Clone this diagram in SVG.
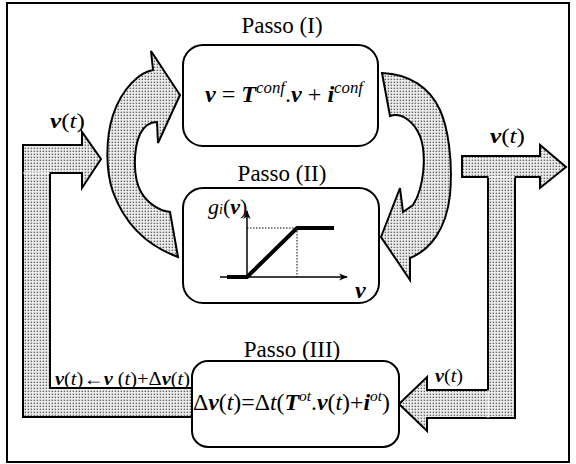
<svg xmlns="http://www.w3.org/2000/svg" width="576" height="464" viewBox="0 0 576 464">
<defs>
<pattern id="dots" width="3" height="3" patternUnits="userSpaceOnUse">
<rect width="3" height="3" fill="#f2f2f2"/>
<rect x="0.6" y="0.6" width="1.5" height="1.5" fill="#666"/>
</pattern>
<marker id="ah" viewBox="0 0 10 10" refX="9" refY="5" markerWidth="9" markerHeight="9" orient="auto" markerUnits="userSpaceOnUse">
<path d="M0,1 L10,5 L0,9 L3,5 Z" fill="#000"/>
</marker>
</defs>
<style>
.box{fill:#fff;stroke:#000;stroke-width:2}
.shape{fill:url(#dots);stroke:#000;stroke-width:2;stroke-linejoin:miter}
.bi{font-weight:bold;font-style:italic}
.i{font-style:italic}
</style>
<rect x="7" y="3" width="562" height="459" fill="#fff" stroke="#000" stroke-width="2"/>
<g id="connectors">
<path class="shape" d="M23,145 L82,145 L82,132 L101,159 L82,188 L82,173 L50,173 L50,388 L192,388 L192,417 L23,417 Z"/>
<line x1="23" y1="173" x2="50" y2="173" stroke="#fff" stroke-width="1"/>
<path class="shape" d="M462,156 L540,156 L540,145 L566,167 L540,188 L540,177 L515,177 L515,418 L427,418 L427,431 L399,404 L427,377 L427,390 L488,390 L488,177 L462,177 Z"/>
<line x1="488" y1="177" x2="515" y2="177" stroke="#fff" stroke-width="1"/>
<line x1="488" y1="390" x2="488" y2="418" stroke="#fff" stroke-width="1"/>
<path class="shape" d="M178,257 L170,212 C160,211 148,204 141,192 C133,178 133,150 140,134 C144,126 150,122 157,122 L158,143 L180,95 L151,51 L153,70 C140,72 122,88 113,115 C105,140 106,172 113,192 C124,222 145,245 178,257 Z"/>
<path class="shape" d="M382,73 L390,116 C402,112 414,122 420,136 C427,155 424,188 413,205 L403,212 L400,188 L381,237 L410,280 L410,258 C430,250 446,230 450,195 C453,160 448,128 440,110 C430,88 410,74 382,73 Z"/>
</g>
<g id="step1">
<text font-family="Liberation Serif" x="282" y="33" font-size="23" text-anchor="middle">Passo (I)</text>
<rect class="box" x="183" y="45" width="195" height="101" rx="20"/>
<text font-family="Liberation Serif" x="205" y="102" font-size="23" textLength="158" lengthAdjust="spacingAndGlyphs"><tspan class="bi">v</tspan> = <tspan class="bi">T</tspan><tspan class="i" font-size="16" dy="-9">conf</tspan><tspan dy="9">.</tspan><tspan class="bi">v</tspan> + <tspan class="bi">i</tspan><tspan class="i" font-size="16" dy="-9">conf</tspan></text>
</g>
<g id="step2">
<text font-family="Liberation Serif" x="282" y="181" font-size="23" text-anchor="middle">Passo (II)</text>
<rect class="box" x="183" y="188" width="196" height="115" rx="20"/>
<line x1="247" y1="228" x2="297" y2="228" stroke="#000" stroke-width="1" stroke-dasharray="1.5,1.5"/>
<line x1="297" y1="228" x2="297" y2="277" stroke="#000" stroke-width="1" stroke-dasharray="1.5,1.5"/>
<line x1="247" y1="277" x2="247" y2="211" stroke="#000" stroke-width="1.5" marker-end="url(#ah)"/>
<line x1="220" y1="277" x2="347" y2="277" stroke="#000" stroke-width="1.5" marker-end="url(#ah)"/>
<polyline points="227,277 247,277 297,228 334,228" fill="none" stroke="#000" stroke-width="4"/>
<text font-family="Liberation Serif" x="208" y="214" font-size="22"><tspan class="i">g</tspan><tspan class="i" font-size="14">i</tspan>(<tspan class="bi">v</tspan>)</text>
<text font-family="Liberation Serif" class="bi" x="355" y="298" font-size="24">v</text>
</g>
<g id="step3">
<text font-family="Liberation Serif" x="292" y="357" font-size="23" text-anchor="middle">Passo (III)</text>
<rect class="box" x="192" y="361" width="207" height="86" rx="16"/>
<text font-family="Liberation Serif" x="193" y="410" font-size="23" textLength="197" lengthAdjust="spacingAndGlyphs">Δ<tspan class="bi">v</tspan>(<tspan class="i">t</tspan>)=Δ<tspan class="i">t</tspan>(<tspan class="bi">T</tspan><tspan class="i" font-size="15" dy="-9">ot</tspan><tspan dy="9">.</tspan><tspan class="bi">v</tspan>(<tspan class="i">t</tspan>)+<tspan class="bi">i</tspan><tspan class="i" font-size="15" dy="-9">ot</tspan><tspan dy="9">)</tspan></text>
</g>
<g id="labels">
<text font-family="Liberation Serif" x="50" y="128" font-size="22" textLength="35" lengthAdjust="spacingAndGlyphs"><tspan class="bi">v</tspan>(<tspan class="i">t</tspan>)</text>
<text font-family="Liberation Serif" x="490" y="143" font-size="22" textLength="35" lengthAdjust="spacingAndGlyphs"><tspan class="bi">v</tspan>(<tspan class="i">t</tspan>)</text>
<text font-family="Liberation Serif" x="435" y="382" font-size="18" textLength="28" lengthAdjust="spacingAndGlyphs"><tspan class="bi">v</tspan>(<tspan class="i">t</tspan>)</text>
<text font-family="Liberation Serif" x="55" y="385" font-size="18" textLength="135" lengthAdjust="spacingAndGlyphs"><tspan class="bi">v</tspan>(<tspan class="i">t</tspan>)←<tspan class="bi">v</tspan> (<tspan class="i">t</tspan>)+Δ<tspan class="bi">v</tspan>(<tspan class="i">t</tspan>)</text>
</g>
</svg>
